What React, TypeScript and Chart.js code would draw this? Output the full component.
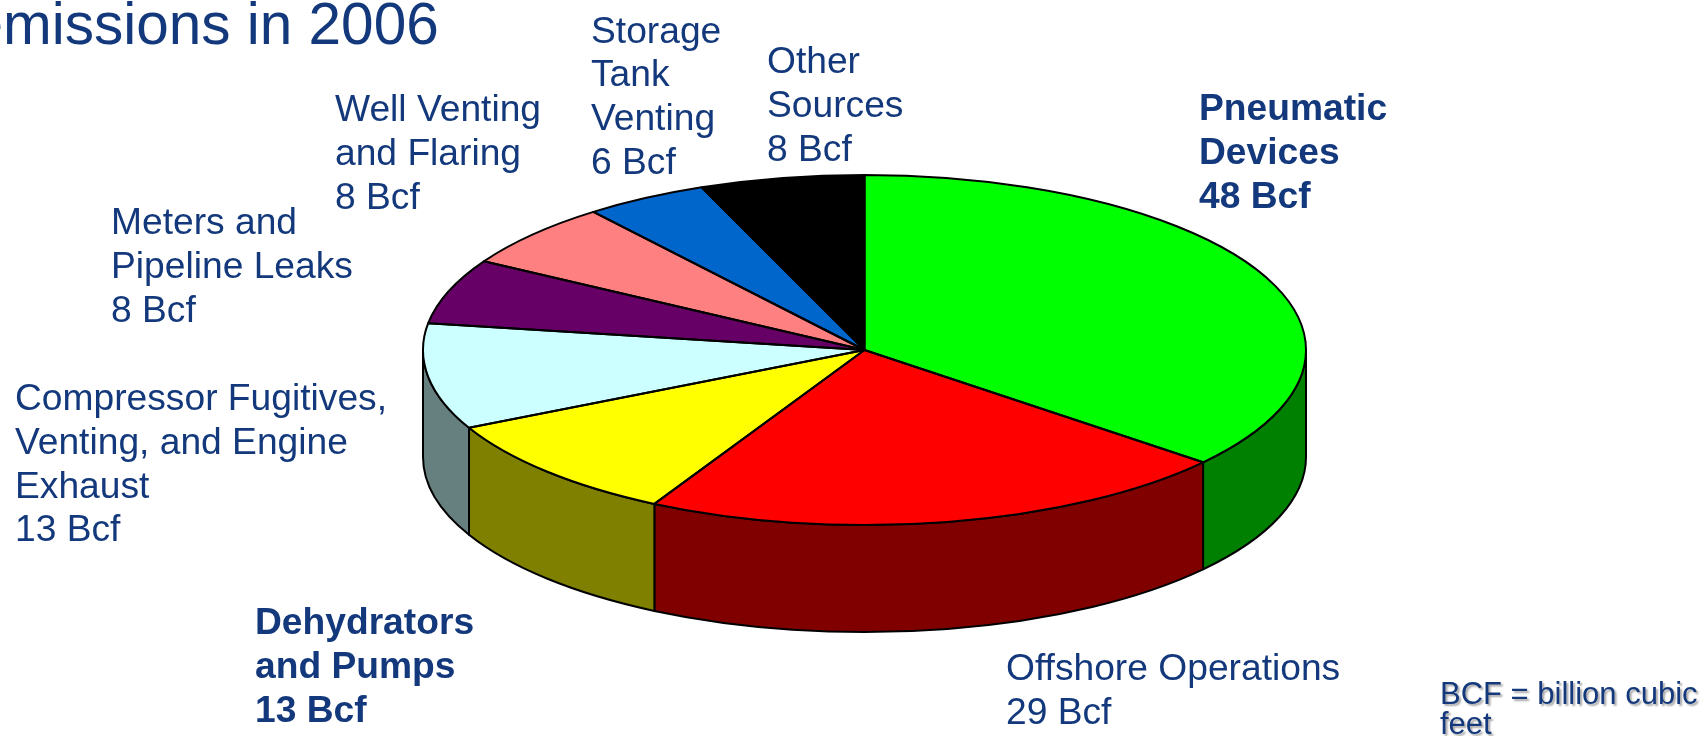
import React, { useEffect, useRef } from "react";
import { Chart, registerables } from "chart.js";

Chart.register(...registerables);

// ---------- data ----------
const categories = [
  "Pneumatic Devices",
  "Offshore Operations",
  "Dehydrators and Pumps",
  "Compressor Fugitives, Venting, and Engine Exhaust",
  "Meters and Pipeline Leaks",
  "Well Venting and Flaring",
  "Storage Tank Venting",
  "Other Sources",
];
const values = [48, 29, 13, 13, 8, 8, 6, 8];
const labelLines = [
  ["Pneumatic", "Devices"],
  ["Offshore Operations"],
  ["Dehydrators", "and Pumps"],
  ["Compressor Fugitives,", "Venting, and Engine", "Exhaust"],
  ["Meters and", "Pipeline Leaks"],
  ["Well Venting", "and Flaring"],
  ["Storage", "Tank", "Venting"],
  ["Other", "Sources"],
];
const boldLabels = [true, false, true, false, false, false, false, false];
const unit = "Bcf";
const titleText = "emissions in 2006";
const noteLines = ["BCF = billion cubic", "feet"];

// ---------- styles ----------
const topColors = ["#00FF00", "#FF0000", "#FFFF00", "#CCFFFF", "#660066", "#FF8080", "#0066CC", "#000000"];
const sideColors = ["#008000", "#800000", "#808000", "#668080", "#330033", "#804040", "#003366", "#000000"];
const TEXT_COLOR = "#13397C";
const FONT_FAMILY = '"Liberation Sans", Arial, Helvetica, sans-serif';

// ---------- layout ----------
const W = 1708;
const H = 736;
const PIE_RX = 441.5;
const PIE_RY = 175;
const DEPTH = 107;
const LABEL_FONT = 37.2;
const LABEL_LH = 43.8;
// first-line left x / baseline y for each label
const labelAnchors = [
  [1199, 120],
  [1006, 680],
  [255, 634],
  [15, 410],
  [111, 234],
  [335, 121],
  [591, 42.5],
  [767, 73],
];

const pie3dPlugin = {
  id: "pie3d",
  beforeDatasetsDraw(chart: any) {
    const arcs = chart.getDatasetMeta(0).data as any[];
    if (!arcs.length) return;
    const ctx = chart.ctx as CanvasRenderingContext2D;
    const cx = arcs[0].x;
    const cy = arcs[0].y;
    const R = arcs[0].outerRadius;
    ctx.save();
    ctx.lineWidth = 2;
    ctx.strokeStyle = "#000";
    ctx.lineJoin = "round";
    arcs.forEach((a, i) => {
      const s = Math.max(a.startAngle, 0);
      const e = Math.min(a.endAngle, Math.PI);
      if (e <= s) return;
      ctx.beginPath();
      ctx.ellipse(cx, cy, PIE_RX, PIE_RY, 0, s, e, false);
      ctx.lineTo(cx + PIE_RX * Math.cos(e), cy + PIE_RY * Math.sin(e) + DEPTH);
      ctx.ellipse(cx, cy + DEPTH, PIE_RX, PIE_RY, 0, e, s, true);
      ctx.closePath();
      ctx.fillStyle = sideColors[i];
      ctx.fill();
      ctx.stroke();
    });
    ctx.restore();
    // squash the library-drawn pie top into an ellipse
    ctx.save();
    ctx.translate(cx, cy);
    ctx.scale(PIE_RX / R, PIE_RY / R);
    ctx.translate(-cx, -cy);
  },
  afterDatasetsDraw(chart: any) {
    const ctx = chart.ctx as CanvasRenderingContext2D;
    ctx.restore();
    const arcs = chart.getDatasetMeta(0).data as any[];
    if (!arcs.length) return;
    const cx = arcs[0].x;
    const cy = arcs[0].y;
    ctx.save();
    ctx.lineWidth = 2;
    ctx.strokeStyle = "#000";
    ctx.lineJoin = "round";
    arcs.forEach((a) => {
      const s = a.startAngle;
      const e = a.endAngle;
      ctx.beginPath();
      ctx.moveTo(cx, cy);
      ctx.lineTo(cx + PIE_RX * Math.cos(s), cy + PIE_RY * Math.sin(s));
      ctx.ellipse(cx, cy, PIE_RX, PIE_RY, 0, s, e, false);
      ctx.closePath();
      ctx.stroke();
    });
    ctx.restore();
  },
};

const textPlugin = {
  id: "texts",
  afterDraw(chart: any) {
    const ctx = chart.ctx as CanvasRenderingContext2D;
    ctx.save();
    ctx.fillStyle = TEXT_COLOR;
    ctx.textAlign = "left";
    ctx.textBaseline = "alphabetic";
    // title (cut off at the left edge)
    ctx.font = `58.5px ${FONT_FAMILY}`;
    const eW = ctx.measureText("e").width;
    ctx.fillText(titleText, 3 - eW, 44);
    // slice labels
    const total = values.length;
    for (let i = 0; i < total; i++) {
      ctx.font = `${boldLabels[i] ? "bold " : ""}${LABEL_FONT}px ${FONT_FAMILY}`;
      const lines = [...labelLines[i], `${values[i]} ${unit}`];
      const [x, y] = labelAnchors[i];
      lines.forEach((ln, k) => ctx.fillText(ln, x, y + k * LABEL_LH));
    }
    // note
    ctx.font = `31px ${FONT_FAMILY}`;
    ctx.shadowColor = "rgba(0,0,0,0.35)";
    ctx.shadowOffsetX = 2;
    ctx.shadowOffsetY = 2;
    ctx.shadowBlur = 2;
    noteLines.forEach((ln, k) => ctx.fillText(ln, 1440, 704 + k * 30));
    ctx.restore();
  },
};

export default function App() {
  const ref = useRef<HTMLCanvasElement | null>(null);
  useEffect(() => {
    document.body.style.margin = "0";
    document.body.style.overflow = "hidden";
    if (!ref.current) return;
    const chart = new Chart(ref.current, {
      type: "pie",
      data: {
        labels: categories,
        datasets: [
          {
            data: values,
            backgroundColor: topColors,
            borderWidth: 0,
            hoverOffset: 0,
            offset: 0,
            clip: false,
          } as any,
        ],
      },
      options: {
        animation: false,
        responsive: false,
        events: [],
        rotation: 0,
        layout: { padding: { left: 21, right: 0, top: 0, bottom: 36 } },
        plugins: { legend: { display: false }, tooltip: { enabled: false } },
      } as any,
      plugins: [pie3dPlugin, textPlugin],
    });
    return () => chart.destroy();
  }, []);
  return (
    <canvas
      ref={ref}
      width={W}
      height={H}
      style={{ display: "block", width: W, height: H, background: "#fff" }}
    />
  );
}
